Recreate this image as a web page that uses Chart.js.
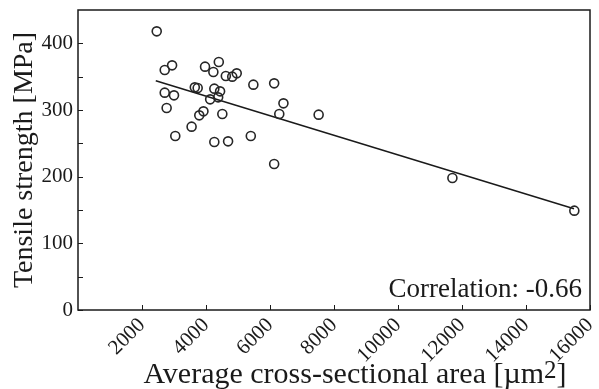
<!DOCTYPE html>
<html>
<head>
<meta charset="utf-8">
<script src="https://cdn.jsdelivr.net/npm/chart.js@4/dist/chart.umd.min.js"></script>
<style>
  html, body { margin: 0; padding: 0; background: #fff; }
  #wrap { width: 599px; height: 389px; }
</style>
</head>
<body>
<div id="wrap"><canvas id="chart" width="599" height="389"></canvas></div>
<script>
// cross-sectional area (µm²) and tensile strength (MPa) of each specimen
const area = [2460, 2940, 2710, 3970, 4400, 4230, 4620, 4820, 4960, 5480, 6130,
  2710, 3000, 3650, 3740, 4260, 4440, 4130, 4380, 2770, 3920, 3790, 4510,
  6420, 6290, 7520, 3550, 3040, 4260, 4690, 5400, 6130, 11700, 15510];
const strength = [418, 367, 360, 365, 372, 357, 351, 350, 355, 338, 340,
  326, 322, 334, 333, 332, 328, 316, 319, 303, 298, 292, 294,
  310, 294, 293, 275, 261, 252, 253, 261, 219, 198, 149];

// end points of the fitted line
const fitX = [2430, 15500];
const fitY = [344, 152];

const correlation = '-0.66';

const xTicks = [2000, 4000, 6000, 8000, 10000, 12000, 14000, 16000];
const yTicks = [0, 100, 200, 300, 400];

const ink = '#1a1a1a';
const serif = 'Liberation Serif, Times New Roman, serif';

const points = area.map((x, i) => ({ x: x, y: strength[i] }));
const fitLine = fitX.map((x, i) => ({ x: x, y: fitY[i] }));

// frame, inward tick marks, x title with superscript and the correlation note
const framePlugin = {
  id: 'frame',
  afterDraw(chart) {
    const ctx = chart.ctx;
    const a = chart.chartArea;
    const xs = chart.scales.x, ys = chart.scales.y;
    ctx.save();
    ctx.strokeStyle = ink;
    ctx.lineWidth = 1;
    ctx.beginPath();
    xs.ticks.forEach(t => {
      const px = Math.round(xs.getPixelForValue(t.value)) + 0.5;
      ctx.moveTo(px, a.bottom);
      ctx.lineTo(px, a.bottom - 5);
    });
    ys.ticks.forEach(t => {
      const py = Math.round(ys.getPixelForValue(t.value)) + 0.5;
      ctx.moveTo(a.left, py);
      ctx.lineTo(a.left + 5, py);
    });
    ctx.stroke();
    ctx.lineWidth = 1.5;
    ctx.strokeRect(a.left, a.top, a.right - a.left, a.bottom - a.top);

    ctx.fillStyle = ink;
    ctx.textBaseline = 'alphabetic';

    ctx.font = '27px ' + serif;
    ctx.textAlign = 'right';
    ctx.fillText('Correlation: ' + correlation, a.right - 8, a.bottom - 13);

    // x axis title, the exponent set a little higher
    const main = 'Average cross-sectional area [\u00b5m';
    ctx.font = '30px ' + serif;
    const w1 = ctx.measureText(main).width;
    ctx.font = '25px ' + serif;
    const w2 = ctx.measureText('2').width;
    ctx.font = '30px ' + serif;
    const w3 = ctx.measureText(']').width;
    let x0 = (a.left + a.right) / 2 + 21 - (w1 + w2 + w3) / 2;
    const base = 383;
    ctx.textAlign = 'left';
    ctx.fillText(main, x0, base);
    ctx.font = '25px ' + serif;
    ctx.fillText('2', x0 + w1, base - 5);
    ctx.font = '30px ' + serif;
    ctx.fillText(']', x0 + w1 + w2, base);
    ctx.restore();
  }
};

new Chart(document.getElementById('chart'), {
  type: 'scatter',
  data: {
    datasets: [
      {
        data: points,
        pointRadius: 4.5,
        pointBorderWidth: 1.6,
        pointBorderColor: '#262626',
        pointBackgroundColor: 'rgba(255,255,255,0)',
        order: 1
      },
      {
        data: fitLine,
        showLine: true,
        pointRadius: 0,
        borderColor: ink,
        borderWidth: 1.5,
        order: 2
      }
    ]
  },
  options: {
    responsive: false,
    animation: false,
    devicePixelRatio: 1,
    layout: { padding: { top: 10, right: 9, left: 0, bottom: 0 } },
    plugins: {
      legend: { display: false },
      tooltip: { enabled: false }
    },
    scales: {
      x: {
        type: 'linear',
        min: 0,
        max: 16000,
        afterBuildTicks(scale) {
          scale.ticks = xTicks.map(v => ({ value: v }));
        },
        afterFit(scale) {
          scale.height = 79;
          scale.paddingLeft = 0;
          scale.paddingRight = 0;
        },
        grid: { display: false, drawTicks: false },
        border: { display: false },
        ticks: {
          color: ink,
          font: { family: serif, size: 21 },
          maxRotation: 45,
          minRotation: 45,
          padding: 3,
          callback: v => String(v)
        }
      },
      y: {
        type: 'linear',
        min: 0,
        max: 450,
        afterBuildTicks(scale) {
          const t = [];
          for (let v = 0; v < 450; v += 50) t.push({ value: v });
          scale.ticks = t;
        },
        afterFit(scale) {
          scale.width = 78;
          scale.paddingTop = 0;
          scale.paddingBottom = 0;
        },
        grid: { display: false, drawTicks: false },
        border: { display: false },
        ticks: {
          color: ink,
          font: { family: serif, size: 21 },
          padding: 5,
          callback: v => (yTicks.includes(v) ? String(v) : '')
        },
        title: {
          display: true,
          text: 'Tensile strength [MPa]',
          color: ink,
          font: { family: serif, size: 28 },
          padding: { top: 8, bottom: 0 }
        }
      }
    }
  },
  plugins: [framePlugin]
});
</script>
</body>
</html>
